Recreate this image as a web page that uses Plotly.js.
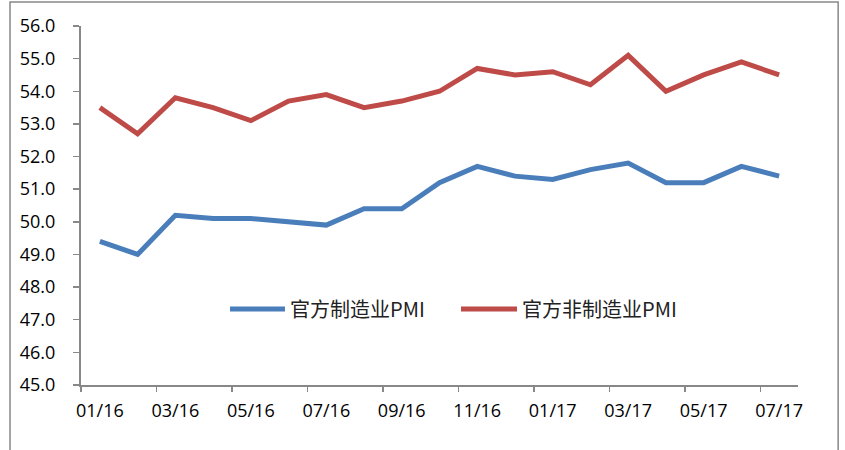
<!DOCTYPE html>
<html><head><meta charset="utf-8">
<script src="https://cdn.plot.ly/plotly-3.0.1.min.js"></script>
<style>html,body{margin:0;padding:0;background:#fff}#c{width:845px;height:450px}</style>
</head><body><div id="c"></div>
<script>
const months = ['01/16','02/16','03/16','04/16','05/16','06/16','07/16','08/16','09/16','10/16','11/16','12/16','01/17','02/17','03/17','04/17','05/17','06/17','07/17'];
const manufacturing = [49.4,49.0,50.2,50.1,50.1,50.0,49.9,50.4,50.4,51.2,51.7,51.4,51.3,51.6,51.8,51.2,51.2,51.7,51.4];
const nonManufacturing = [53.5,52.7,53.8,53.5,53.1,53.7,53.9,53.5,53.7,54.0,54.7,54.5,54.6,54.2,55.1,54.0,54.5,54.9,54.5];
const seriesNames = ['官方制造业PMI','官方非制造业PMI'];
const colors = ['#4A7EBB','#BE4B48'];

const idx = months.map((m,i)=>i);
const labelIdx = idx.filter(i=>i%2===0);
const font = "'Open Sans', 'Noto Sans CJK SC', sans-serif";
const cjk = "'Noto Sans CJK SC', 'Open Sans', sans-serif";

const traces = [
  {x: idx, y: manufacturing, name: seriesNames[0], type:'scatter', mode:'lines', line:{color:colors[0], width:5}},
  {x: idx, y: nonManufacturing, name: seriesNames[1], type:'scatter', mode:'lines', line:{color:colors[1], width:5}},
  {x:[0], y:[null], xaxis:'x2', showlegend:false, hoverinfo:'skip'}
];

// manual legend (position/style only)
const legY = 0.2117;
const legItems = [{x0:0.2078, x1:0.2845, tx:0.2890}, {x0:0.5300, x1:0.6081, tx:0.6123}];
const shapes = [{type:'rect', xref:'paper', yref:'paper', x0:-0.099, x1:1.056, y0:-0.3, y1:1.067, line:{color:'#888', width:1.5}, fillcolor:'rgba(0,0,0,0)', layer:'below'}];
const annotations = [];
legItems.forEach((it,k)=>{
  shapes.push({type:'line', xref:'paper', yref:'paper', x0:it.x0, x1:it.x1, y0:legY, y1:legY, line:{color:colors[k], width:5}});
  annotations.push({xref:'paper', yref:'paper', x:it.tx, y:legY, xanchor:'left', yanchor:'middle', showarrow:false, text:seriesNames[k], font:{family:cjk, size:20, color:'#222'}});
});

const layout = {
  width:845, height:450,
  margin:{l:81, r:47, t:26, b:65},
  paper_bgcolor:'#fff', plot_bgcolor:'#fff',
  font:{family:font, size:18, color:'#000'},
  showlegend:false,
  xaxis:{range:[-0.5,18.5], tickvals:labelIdx, ticktext:labelIdx.map(i=>months[i]), ticks:'', showgrid:false, zeroline:false,
         showline:true, linecolor:'#888', linewidth:2, ticklen:0, ticklabelstandoff:8, tickfont:{size:18}},
  xaxis2:{overlaying:'x', range:[-0.5,18.5], tickvals:labelIdx.map(i=>i-0.5), showticklabels:false, ticks:'outside', ticklen:6, tickwidth:1.5, tickcolor:'#888', showgrid:false, zeroline:false, side:'bottom', anchor:'y'},
  yaxis:{range:[45,56], dtick:1, tickformat:'.1f', ticks:'outside', ticklen:6, tickwidth:1.5, tickcolor:'#888', showgrid:false, zeroline:false,
         showline:true, linecolor:'#888', linewidth:2, ticklabelstandoff:14, tickfont:{size:18}},
  shapes: shapes,
  annotations: annotations
};
Plotly.newPlot('c', traces, layout, {staticPlot:true});
</script></body></html>
